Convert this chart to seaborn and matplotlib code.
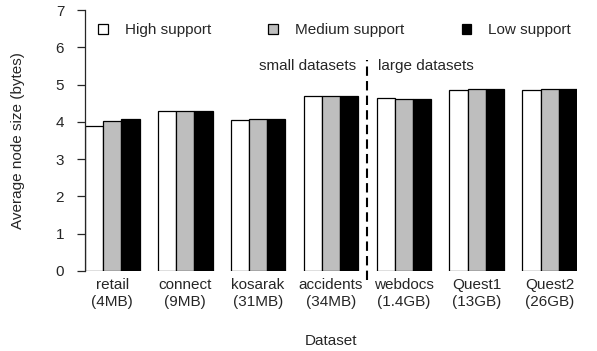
import pandas as pd
import seaborn as sns
import matplotlib.pyplot as plt
from matplotlib.patches import Patch

datasets = ["retail", "connect", "kosarak", "accidents", "webdocs", "Quest1", "Quest2"]
sizes = ["4MB", "9MB", "31MB", "34MB", "1.4GB", "13GB", "26GB"]
supports = ["High support", "Medium support", "Low support"]
high = [3.89, 4.28, 4.04, 4.70, 4.63, 4.85, 4.85]
medium = [4.03, 4.28, 4.09, 4.70, 4.61, 4.87, 4.87]
low = [4.07, 4.29, 4.08, 4.70, 4.61, 4.89, 4.88]
colors = ["white", "#bebebe", "black"]

df = pd.DataFrame({
    "dataset": datasets * 3,
    "support": [s for s in supports for _ in datasets],
    "value": high + medium + low,
})

sns.set_style("ticks")
plt.rcParams["font.family"] = ["Liberation Sans", "DejaVu Sans"]
plt.rcParams["font.size"] = 11

fig = plt.figure(figsize=(5.97, 3.51), dpi=100)
ax = fig.add_axes([85 / 597, 80 / 351, (577 - 85) / 597, 261 / 351])

sns.barplot(data=df, x="dataset", y="value", hue="support", order=datasets,
            hue_order=supports, palette=colors, saturation=1, width=0.75,
            edgecolor="black", linewidth=0.9, ax=ax, legend=False)

ax.set_xlim(-0.375, 6.375)
ax.set_ylim(0, 7)
ax.set_yticks(range(8))
ax.set_xticks(range(len(datasets)))
ax.set_xticklabels([f"{d}\n({s})" for d, s in zip(datasets, sizes)], fontsize=11,
                   linespacing=1.25)
ax.tick_params(axis="x", length=0, pad=5)
ax.tick_params(axis="y", length=6, width=0.9, pad=9, labelsize=11)
sns.despine(ax=ax, bottom=True)
ax.spines["left"].set_bounds(0, 7)
ax.spines["left"].set_linewidth(0.9)
ax.set_xlabel("Dataset", fontsize=11, labelpad=18)
ax.set_ylabel("Average node size (bytes)", fontsize=11, labelpad=22)

# split between small and large datasets
ax.plot([3.5, 3.5], [-0.25, 5.66], color="black", lw=1.5, ls=(0, (4.5, 2.5)),
        clip_on=False)
ax.text(3.35, 5.5, "small datasets", ha="right", va="center", fontsize=11)
ax.text(3.64, 5.5, "large datasets", ha="left", va="center", fontsize=11)

handles = [Patch(facecolor=c, edgecolor="black", linewidth=0.9) for c in colors]
fig.legend(handles, supports, loc="center left", bbox_to_anchor=(98 / 597, 1 - 30 / 351),
           ncol=3, frameon=False, handlelength=0.65, handleheight=0.65,
           handletextpad=1.1, columnspacing=3.75, borderpad=0, borderaxespad=0,
           fontsize=11)

fig.savefig("out.png", dpi=100)
